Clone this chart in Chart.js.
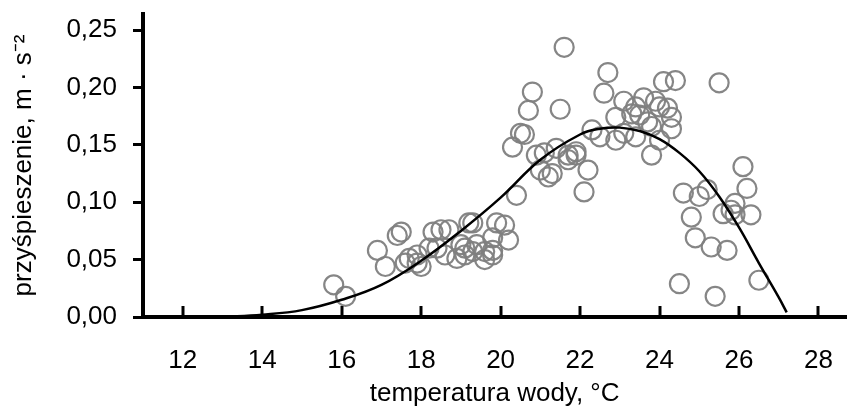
<!DOCTYPE html>
<html lang="pl">
<head>
<meta charset="UTF-8">
<title>przyśpieszenie a temperatura wody</title>
<script src="https://cdn.jsdelivr.net/npm/chart.js"></script>
<style>
  html, body { margin: 0; padding: 0; background: #fff; }
  #wrap { width: 858px; height: 409px; }
</style>
</head>
<body>
<div id="wrap"><canvas id="chart" width="858" height="409"></canvas></div>
<script>
// measured points (temperature, acceleration)
const tempX = [
  15.8, 16.1, 16.9, 17.1, 17.4, 17.5, 17.6, 17.7, 17.9, 17.9,
  18.0, 18.2, 18.3, 18.4, 18.5, 18.6, 18.7, 18.9, 19.0, 19.1,
  19.1, 19.2, 19.3, 19.3, 19.4, 19.6, 19.6, 19.8, 19.8, 19.8,
  19.9, 20.1, 20.2, 20.4, 20.3, 20.5, 20.6, 20.7, 20.8, 20.9,
  21.0, 21.1, 21.2, 21.3, 21.4, 21.5, 21.6, 21.7, 21.7, 21.9,
  21.9, 22.1, 22.2, 22.3, 22.5, 22.6, 22.7, 22.9, 22.9, 23.1,
  23.1, 23.3, 23.4, 23.4, 23.5, 23.6, 23.7, 23.8, 23.8, 23.9,
  24.0, 24.0, 24.1, 24.2, 24.3, 24.3, 24.4, 24.5, 24.6, 24.8,
  24.9, 25.0, 25.2, 25.3, 25.4, 25.5, 25.6, 25.7, 25.8, 25.9,
  25.9, 26.1, 26.2, 26.3, 26.5
];
const accelY = [
  0.028, 0.018, 0.058, 0.044, 0.071, 0.074, 0.047, 0.051, 0.047, 0.054,
  0.044, 0.060, 0.074, 0.060, 0.076, 0.054, 0.076, 0.051, 0.063, 0.060,
  0.054, 0.082, 0.082, 0.057, 0.063, 0.057, 0.050, 0.058, 0.054, 0.069,
  0.082, 0.080, 0.067, 0.106, 0.148, 0.160, 0.159, 0.180, 0.196, 0.141,
  0.128, 0.143, 0.122, 0.125, 0.147, 0.181, 0.235, 0.141, 0.137, 0.144,
  0.141, 0.109, 0.128, 0.163, 0.157, 0.195, 0.213, 0.174, 0.154, 0.188,
  0.160, 0.177, 0.157, 0.183, 0.176, 0.191, 0.170, 0.166, 0.141, 0.188,
  0.154, 0.183, 0.205, 0.182, 0.164, 0.174, 0.206, 0.029, 0.108, 0.087,
  0.069, 0.105, 0.111, 0.061, 0.018, 0.204, 0.090, 0.058, 0.093, 0.099,
  0.089, 0.131, 0.112, 0.089, 0.032
];

// fitted curve
const curveX = [13, 14, 15, 16, 17, 18, 19, 20, 21, 22, 22.5, 23, 23.5, 24, 24.5, 25, 25.5, 26, 26.5, 27, 27.2];
const curveY = [0, 0.002, 0.006, 0.015, 0.028, 0.049, 0.075, 0.104, 0.137, 0.159, 0.164, 0.165, 0.162, 0.155, 0.143, 0.127, 0.105, 0.078, 0.047, 0.017, 0.004];

const xTicks = [12, 14, 16, 18, 20, 22, 24, 26, 28];
const yTicks = [0, 0.05, 0.10, 0.15, 0.20, 0.25];

const font = { family: "Liberation Sans, Arial, sans-serif", size: 26 };

// x-axis tick marks point into the plot
const innerTicks = {
  id: "innerTicks",
  afterDatasetsDraw(chart) {
    const x = chart.scales.x;
    const ctx = chart.ctx;
    const bottom = chart.chartArea.bottom;
    ctx.save();
    ctx.strokeStyle = "#000";
    ctx.lineWidth = 3;
    xTicks.forEach((v) => {
      const px = Math.round(x.getPixelForValue(v));
      ctx.beginPath();
      ctx.moveTo(px, bottom - 11);
      ctx.lineTo(px, bottom);
      ctx.stroke();
    });
    ctx.restore();
  }
};

new Chart(document.getElementById("chart"), {
  type: "scatter",
  data: {
    datasets: [
      {
        label: "krzywa",
        data: curveX.map((v, i) => ({ x: v, y: curveY[i] })),
        showLine: true,
        borderColor: "#000",
        borderWidth: 2.5,
        pointRadius: 0,
        tension: 0.4,
        order: 0
      },
      {
        label: "pomiary",
        data: tempX.map((v, i) => ({ x: v, y: accelY[i] })),
        pointRadius: 9.5,
        pointBorderWidth: 2.2,
        pointBorderColor: "rgba(128,128,128,0.95)",
        pointBackgroundColor: "rgba(0,0,0,0)",
        order: 1
      }
    ]
  },
  options: {
    responsive: false,
    animation: false,
    layout: { padding: { top: 14, right: 8, left: 0, bottom: 0 } },
    plugins: { legend: { display: false }, tooltip: { enabled: false } },
    scales: {
      x: {
        type: "linear",
        min: 11,
        max: 28.7,
        afterBuildTicks: (s) => { s.ticks = xTicks.map((v) => ({ value: v })); },
        afterFit: (s) => { s.height = 92; s.paddingLeft = 0; s.paddingRight = 0; },
        grid: { display: false, drawTicks: false },
        border: { display: true, color: "#000", width: 4 },
        ticks: { color: "#000", font: font, padding: 28, maxRotation: 0 },
        title: {
          display: true,
          text: "temperatura wody, °C",
          color: "#000",
          font: font,
          padding: { top: 0, bottom: 0 }
        }
      },
      y: {
        min: 0,
        max: 0.264,
        afterBuildTicks: (s) => { s.ticks = yTicks.map((v) => ({ value: v })); },
        afterFit: (s) => { s.width = 143; s.paddingTop = 0; s.paddingBottom = 0; },
        grid: { drawOnChartArea: false, drawTicks: true, tickLength: 10, color: "#000", lineWidth: 3 },
        border: { display: true, color: "#000", width: 4 },
        ticks: {
          color: "#000",
          font: font,
          padding: 16,
          callback: (v) => v.toFixed(2).replace(".", ",")
        },
        title: {
          display: true,
          text: "przyśpieszenie, m · s⁻²",
          color: "#000",
          font: font,
          padding: { top: 8, bottom: 0 }
        }
      }
    }
  },
  plugins: [innerTicks]
});
</script>
</body>
</html>
